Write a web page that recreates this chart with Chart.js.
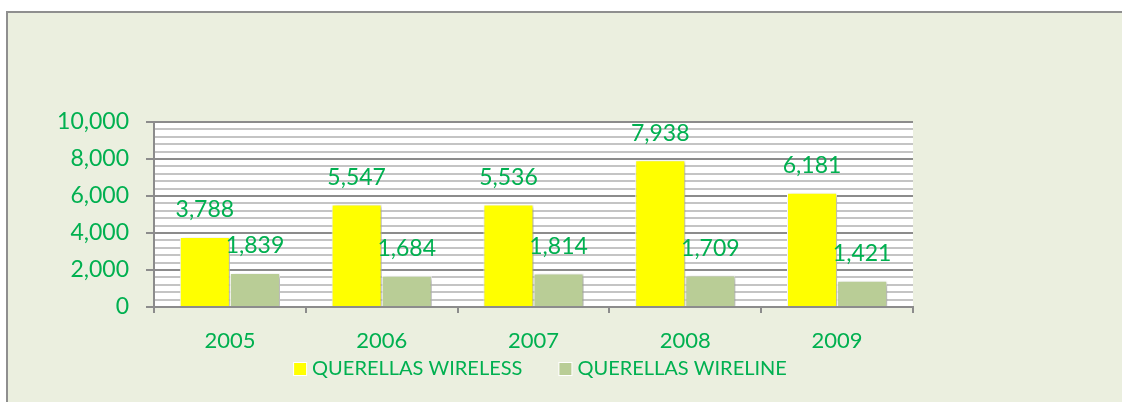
<!DOCTYPE html>
<html>
<head>
<meta charset="utf-8">
<script src="https://cdn.jsdelivr.net/npm/chart.js@4.4.1/dist/chart.umd.min.js"></script>
<style>
  html, body { margin: 0; padding: 0; background: #ffffff; width: 1122px; height: 402px; overflow: hidden; }
  #frame { position: absolute; left: 6px; top: 11px; width: 1200px; height: 500px; border: 2px solid #8f8f8f; background: #EBEFDF; }
  #wrap { position: absolute; left: 0; top: 0; width: 1122px; height: 402px; }
</style>
</head>
<body>
<div id="frame"></div>
<div id="wrap"><canvas id="c" width="1122" height="402"></canvas></div>
<script>
const categories = ['2005', '2006', '2007', '2008', '2009'];
const wirelessValues = [3788, 5547, 5536, 7938, 6181];
const wirelineValues = [1839, 1684, 1814, 1709, 1421];
const seriesNames = ['QUERELLAS WIRELESS', 'QUERELLAS WIRELINE'];
const yTickValues = [0, 2000, 4000, 6000, 8000, 10000];

const GREEN_TEXT = '#00B050';
const FONT = 'Lato, "Open Sans", sans-serif';

const plotBg = {
  id: 'plotBg',
  beforeDraw(chart) {
    const { ctx, chartArea: a } = chart;
    ctx.save();
    ctx.fillStyle = '#ffffff';
    ctx.fillRect(a.left, a.top, a.right - a.left, a.bottom - a.top);
    ctx.restore();
  }
};

const customLegend = {
  id: 'customLegend',
  afterDraw(chart) {
    const ctx = chart.ctx;
    const a = chart.chartArea;
    ctx.save();
    ctx.font = '20px ' + FONT;
    ctx.textBaseline = 'middle';
    ctx.textAlign = 'left';
    const boxToText = 18, itemGap = 37, box = 12;
    const items = chart.data.datasets.map(ds => ({ text: ds.label, color: ds.backgroundColor, w: ctx.measureText(ds.label).width }));
    const total = items.reduce((s, it) => s + boxToText + it.w, 0) + itemGap * (items.length - 1);
    let x = (a.left + a.right) / 2 + 7 - total / 2;
    const yc = 369;
    items.forEach(it => {
      ctx.fillStyle = '#ffffff';
      ctx.fillRect(x - 1, yc - box / 2 - 1, box + 2, box + 2);
      ctx.fillStyle = it.color;
      ctx.fillRect(x, yc - box / 2, box, box);
      ctx.fillStyle = GREEN_TEXT;
      ctx.fillText(it.text, x + boxToText, yc);
      x += boxToText + it.w + itemGap;
    });
    ctx.restore();
  }
};

const barShadow = {
  id: 'barShadow',
  beforeDatasetsDraw(chart) {
    const ctx = chart.ctx;
    ctx.save();
    ctx.shadowColor = 'rgba(0,0,0,0.35)';
    ctx.shadowBlur = 4;
    ctx.shadowOffsetX = 2;
    ctx.shadowOffsetY = 2;
  },
  afterDatasetsDraw(chart) {
    chart.ctx.restore();
  }
};

const valueLabels = {
  id: 'valueLabels',
  afterDatasetsDraw(chart) {
    const ctx = chart.ctx;
    ctx.save();
    ctx.fillStyle = GREEN_TEXT;
    ctx.font = '23px ' + FONT;
    ctx.textAlign = 'center';
    ctx.textBaseline = 'middle';
    chart.data.datasets.forEach((ds, i) => {
      const meta = chart.getDatasetMeta(i);
      meta.data.forEach((bar, j) => {
        ctx.fillText(ds.data[j].toLocaleString('en-US'), bar.x, bar.y - 27);
      });
    });
    ctx.restore();
  }
};

new Chart(document.getElementById('c'), {
  type: 'bar',
  data: {
    labels: categories,
    datasets: [
      { label: seriesNames[0], data: wirelessValues, backgroundColor: '#FFFF00', borderColor: '#ffffff', borderWidth: 1 },
      { label: seriesNames[1], data: wirelineValues, backgroundColor: '#B9CD96', borderColor: '#ffffff', borderWidth: 1 }
    ]
  },
  options: {
    responsive: false,
    animation: false,
    devicePixelRatio: 1,
    layout: { padding: { top: 122, right: 209, left: 0, bottom: 50 } },
    datasets: { bar: { categoryPercentage: 0.66, barPercentage: 1.0 } },
    plugins: {
      tooltip: { enabled: false },
      legend: { display: false }
    },
    scales: {
      x: {
        afterFit(scale) { scale.height = 45; },
        grid: {
          display: true,
          offset: true,
          drawOnChartArea: false,
          drawTicks: true,
          tickLength: 6,
          color: '#8c8c8c',
          lineWidth: 2
        },
        border: { color: '#8c8c8c', width: 2 },
        ticks: { color: GREEN_TEXT, font: { family: FONT, size: 22 }, padding: 15 }
      },
      y: {
        min: 0,
        max: 10000,
        afterFit(scale) { scale.width = 154; },
        afterBuildTicks(scale) {
          const t = [];
          for (let v = 0; v <= 10000; v += 400) t.push({ value: v });
          yTickValues.forEach(v => { if (!t.some(x => x.value === v)) t.push({ value: v }); });
          t.sort((a, b) => a.value - b.value);
          scale.ticks = t;
        },
        grid: {
          color: ctx => (yTickValues.includes(ctx.tick.value) ? '#8c8c8c' : '#c4c4c4'),
          tickColor: ctx => (yTickValues.includes(ctx.tick.value) ? '#8c8c8c' : 'rgba(0,0,0,0)'),
          lineWidth: 2,
          tickLength: 8
        },
        border: { color: '#8c8c8c', width: 2 },
        ticks: {
          color: GREEN_TEXT,
          font: { family: FONT, size: 23 },
          padding: 17,
          autoSkip: false,
          callback: v => (yTickValues.includes(v) ? v.toLocaleString('en-US') : '')
        }
      }
    }
  },
  plugins: [plotBg, barShadow, valueLabels, customLegend]
});
</script>
</body>
</html>
